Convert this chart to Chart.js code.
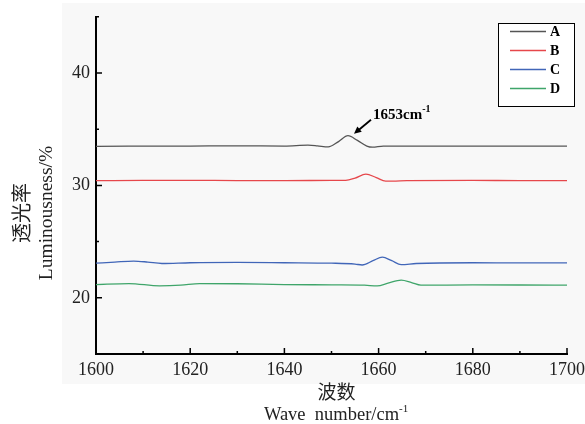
<!DOCTYPE html>
<html>
<head>
<meta charset="utf-8">
<script src="https://cdn.jsdelivr.net/npm/chart.js@4.4.1/dist/chart.umd.min.js"></script>
<style>
    html, body { margin: 0; padding: 0; background: #fff; }
    #wrap { width: 585px; height: 424px; }
</style>
</head>
<body>
<div id="wrap"><canvas id="chart"></canvas></div>
<script>
// values
const seriesNames = ['A', 'B', 'C', 'D'];
const seriesColors = ['#555555', '#e6474b', '#4166b8', '#3fa56a'];

const waveA = [1600, 1620, 1630, 1640, 1645, 1647, 1649.3, 1651.5, 1653.5, 1655.5, 1657.5, 1658.7, 1661, 1670, 1680, 1690, 1700];
const lumA  = [33.48, 33.5, 33.52, 33.5, 33.58, 33.52, 33.42, 33.9, 34.42, 34.0, 33.5, 33.4, 33.5, 33.5, 33.5, 33.5, 33.5];

const waveB = [1600, 1610, 1620, 1630, 1640, 1650, 1653, 1655, 1657.3, 1659.5, 1661.5, 1663, 1666, 1680, 1690, 1700];
const lumB  = [30.42, 30.44, 30.45, 30.43, 30.43, 30.44, 30.45, 30.65, 31.0, 30.7, 30.38, 30.38, 30.43, 30.45, 30.42, 30.42];

const waveC = [1600, 1604, 1608, 1611, 1614, 1620, 1630, 1640, 1650, 1655, 1656.5, 1658.8, 1660.8, 1662.8, 1664.8, 1668, 1680, 1690, 1700];
const lumC  = [23.08, 23.18, 23.27, 23.18, 23.05, 23.12, 23.15, 23.12, 23.08, 23.0, 22.92, 23.3, 23.62, 23.3, 22.95, 23.05, 23.12, 23.1, 23.1];

const waveD = [1600, 1607, 1613.5, 1618, 1622, 1630, 1640, 1650, 1657, 1659.7, 1662, 1664.8, 1667, 1669, 1680, 1690, 1700];
const lumD  = [21.18, 21.27, 21.06, 21.12, 21.27, 21.25, 21.18, 21.15, 21.12, 21.06, 21.3, 21.57, 21.35, 21.12, 21.15, 21.14, 21.12];

const xTicks = [1600, 1620, 1640, 1660, 1680, 1700];
const xMinorTicks = [1610, 1630, 1650, 1670, 1690];
const yTicks = [20, 30, 40];
const yMinorTicks = [15, 25, 35, 45];

const peakLabel = '1653cm';
const peakSup = '-1';
const peakAt = [1653.5, 34.42];

const xTitle = ['波数', 'Wave  number/cm'];
const yTitle = ['透光率', 'Luminousness/%'];

const SERIF = '"Liberation Serif", "DejaVu Serif", "Noto Sans CJK SC", serif';

const toPoints = (xs, ys) => xs.map((x, i) => ({x, y: ys[i]}));
const allWaves = [waveA, waveB, waveC, waveD];
const allLums = [lumA, lumB, lumC, lumD];

const datasets = seriesNames.map((name, i) => ({
    label: name,
    data: toPoints(allWaves[i], allLums[i]),
    borderColor: seriesColors[i],
    borderWidth: 1.3,
    pointRadius: 0,
    fill: false,
    cubicInterpolationMode: 'monotone'
}));

const decor = {
    id: 'decor',
    beforeDraw(chart) {
        const ctx = chart.ctx;
        ctx.save();
        ctx.fillStyle = '#f8f8f8';
        ctx.fillRect(62, 3, 523, 381);
        ctx.restore();
    },
    afterDraw(chart) {
        const ctx = chart.ctx;
        const xs = chart.scales.x, ys = chart.scales.y;
        const area = chart.chartArea;
        ctx.save();

        // inward ticks
        ctx.strokeStyle = '#000';
        ctx.lineWidth = 1.5;
        ctx.beginPath();
        xTicks.forEach(v => { const px = xs.getPixelForValue(v); ctx.moveTo(px, area.bottom); ctx.lineTo(px, area.bottom - 6); });
        xMinorTicks.forEach(v => { const px = xs.getPixelForValue(v); ctx.moveTo(px, area.bottom); ctx.lineTo(px, area.bottom - 3); });
        yTicks.forEach(v => { const py = ys.getPixelForValue(v); ctx.moveTo(area.left, py); ctx.lineTo(area.left + 6, py); });
        yMinorTicks.forEach(v => { const py = ys.getPixelForValue(v); ctx.moveTo(area.left, py); ctx.lineTo(area.left + 3, py); });
        ctx.stroke();

        // axis titles
        ctx.fillStyle = '#222';
        ctx.textAlign = 'center';
        ctx.textBaseline = 'middle';
        const cx = (area.left + area.right) / 2 + 5;
        ctx.font = `19px ${SERIF}`;
        ctx.fillText(xTitle[0], cx, 394);
        ctx.font = `18.5px ${SERIF}`;
        const w1 = ctx.measureText(xTitle[1]).width;
        ctx.fillText(xTitle[1], cx - 5, 415);
        ctx.font = `11px ${SERIF}`;
        ctx.textAlign = 'left';
        ctx.fillText('-1', cx - 5 + w1 / 2, 409);

        ctx.save();
        ctx.translate(24, 213);
        ctx.rotate(-Math.PI / 2);
        ctx.textAlign = 'center';
        ctx.font = `20px ${SERIF}`;
        ctx.fillText(yTitle[0], 0, 0);
        ctx.restore();
        ctx.save();
        ctx.translate(47, 213);
        ctx.rotate(-Math.PI / 2);
        ctx.textAlign = 'center';
        ctx.font = `19.5px ${SERIF}`;
        ctx.fillText(yTitle[1], 0, 0);
        ctx.restore();

        // peak annotation
        const tipX = xs.getPixelForValue(peakAt[0]) + 6;
        const tipY = ys.getPixelForValue(peakAt[1]) - 2;
        const tailX = tipX + 17, tailY = tipY - 14;
        ctx.strokeStyle = '#000';
        ctx.fillStyle = '#000';
        ctx.lineWidth = 1.8;
        ctx.beginPath();
        ctx.moveTo(tailX, tailY);
        ctx.lineTo(tipX + 5, tipY - 4);
        ctx.stroke();
        const ang = Math.atan2(tipY - tailY, tipX - tailX);
        ctx.beginPath();
        ctx.moveTo(tipX, tipY);
        ctx.lineTo(tipX - 8 * Math.cos(ang - 0.45), tipY - 8 * Math.sin(ang - 0.45));
        ctx.lineTo(tipX - 8 * Math.cos(ang + 0.45), tipY - 8 * Math.sin(ang + 0.45));
        ctx.closePath();
        ctx.fill();
        ctx.font = `bold 15px ${SERIF}`;
        ctx.textAlign = 'left';
        ctx.textBaseline = 'alphabetic';
        ctx.fillText(peakLabel, tailX + 2, tailY - 1);
        const pw = ctx.measureText(peakLabel).width;
        ctx.font = `bold 10px ${SERIF}`;
        ctx.fillText(peakSup, tailX + 2 + pw, tailY - 8);

        // legend box
        ctx.lineWidth = 1;
        ctx.strokeStyle = '#000';
        ctx.fillStyle = '#fff';
        ctx.fillRect(498, 23, 76, 83);
        ctx.strokeRect(498.5, 23.5, 76, 83);
        chart.data.datasets.forEach((ds, i) => {
            const ly = 31.5 + i * 19;
            ctx.strokeStyle = ds.borderColor;
            ctx.lineWidth = 1.5;
            ctx.beginPath();
            ctx.moveTo(510, ly);
            ctx.lineTo(546, ly);
            ctx.stroke();
            ctx.fillStyle = '#000';
            ctx.font = `bold 14px ${SERIF}`;
            ctx.textBaseline = 'middle';
            ctx.fillText(ds.label, 550, ly + 1);
        });
        ctx.restore();
    }
};

new Chart(document.getElementById('chart'), {
    type: 'line',
    data: {datasets},
    options: {
        responsive: true,
        maintainAspectRatio: false,
        animation: false,
        layout: {padding: {top: 15, right: 18, left: 0, bottom: 0}},
        plugins: {
            legend: {display: false},
            tooltip: {enabled: false}
        },
        scales: {
            x: {
                type: 'linear',
                min: 1600,
                max: 1700,
                afterBuildTicks: scale => { scale.ticks = xTicks.map(value => ({value})); },
                afterFit: scale => {
                    scale.height = 70;
                    scale.paddingLeft = 0;
                    scale.paddingRight = 0;
                },
                grid: {display: false, drawTicks: false},
                border: {display: true, color: '#000', width: 2},
                ticks: {color: '#222', padding: 5, maxRotation: 0, font: {family: SERIF, size: 18},
                    callback: value => String(value)}
            },
            y: {
                min: 15,
                max: 45,
                afterBuildTicks: scale => { scale.ticks = yTicks.map(value => ({value})); },
                afterFit: scale => { scale.width = 96; },
                grid: {display: false, drawTicks: false},
                border: {display: true, color: '#000', width: 2},
                ticks: {color: '#222', padding: 6, font: {family: SERIF, size: 18}}
            }
        }
    },
    plugins: [decor]
});
</script>
</body>
</html>
